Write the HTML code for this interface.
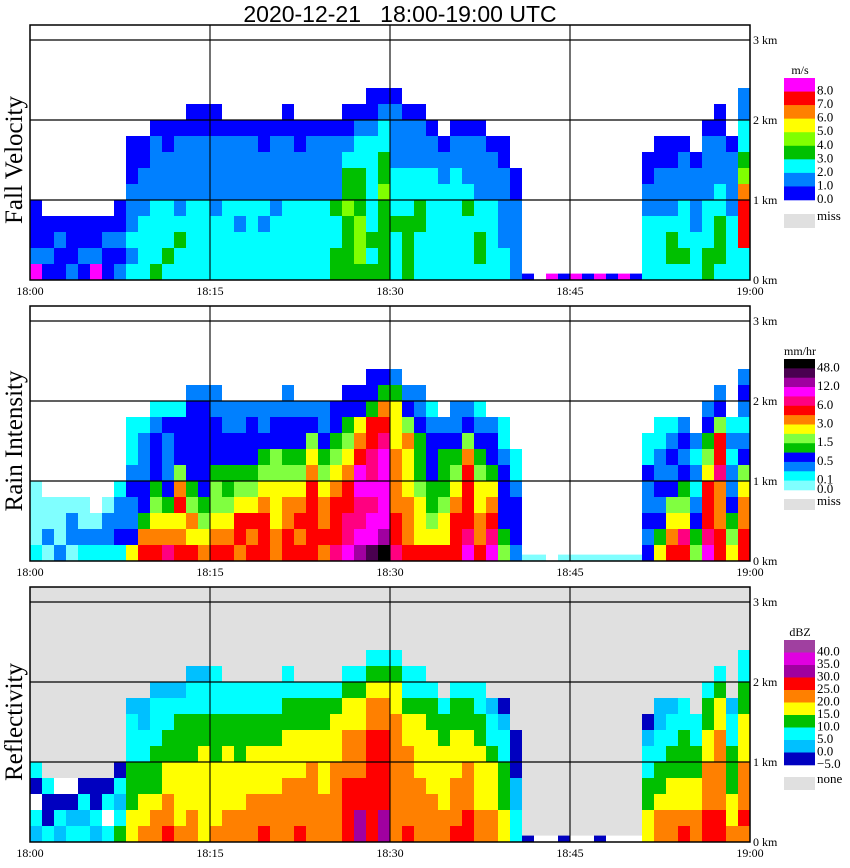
<!DOCTYPE html>
<html><head><meta charset="utf-8">
<style>
html,body{margin:0;padding:0;background:#fff;}
svg{display:block;}
text{font-family:"Liberation Serif",serif;fill:#000;}
</style></head>
<body>
<svg id="chart" width="850" height="868" viewBox="0 0 850 868" xmlns="http://www.w3.org/2000/svg">
<text x="400" y="22" text-anchor="middle" font-size="23" style="font-family:'Liberation Sans',sans-serif;white-space:pre" xml:space="preserve">2020-12-21   18:00-19:00 UTC</text>
</svg>
<script>
// time axis: minutes after 18:00; height bins of 0.2 km, bottom to top
const timeTicks = ["18:00","18:15","18:30","18:45","19:00"];
const tickMinutes = [0,15,30,45,60];
const heightTicks = [0,1,2,3];
const binKm = 0.2;

// Fall velocity (codes 0..8)
const velocityColumns = ["81000","0100","0010","1000","0100","8100","0010","10100",
"212111000","222211100","3222211110","2322211100","2232111110","22222111100","22222111100","22221111100",
"2222211110","2221211110","2222211110","2221211100","2222111110","22222111100","2222211100","2222211110",
"2222211110","3322311110","33334332100","34443332210","323222222100","333334332210","222322211110","33332221110",
"22233221110","2222222110","222222110","2222222110","2222321110","2332211110","222221110","221111100",
"1111100","0",".","8","0","8","0","8","0","8",
"0","22221100","222211100","233211100","232221110","22211110","3322211110","23332211100","222211110","227776432211"];
// Rain intensity (codes a..n)
const rainColumns = ["baaaa","acaa","caaa","acca","bcaa","bca","bcca","bdccb",
"gdccdcbbb","iheddcccb","ihgfedddcb","jhgedcccdb","ihgihfdddb","ighfedddddc","hgfeddddddc","ihgffedddcc",
"ihgfeeddcc","hiigfeddcc","ihigfedddc","iiihgfedcc","hhgggffddc","iihhgfeddcc","ihihgfeddc","iiiiihgfdc",
"hihhgfedcc","jiiihgfedd","kjjiihgfedd","lkjjkkihgdd","mkkjkjjiiedd","nlkkkkkjihed","jiihhhhgggec","ihhhggghfdc",
"igggfeeedcc","igfeedddcb","iggfeeedc","iiihgfedcc","kjiiiihfdc","ihhggfedcb","kjihgeddc","feddddcbb",
"cdddcbb","a","a",".","a","a","a","a","a","a",
"a","dcdccdbb","gedcdccbb","ihgfdcdcb","ijgfedcdc","fedcbcbc","kjiiigfedc","iihhhjiifdc","gfedccbcb","iihhgfdcbcdc"];
// Reflectivity (codes 0..9, w = white/below threshold)
const dbzColumns = ["12w02","2002","120w","210w","2120","1200","2w20","32120",
"443332221","544332211","5543332221","6554433221","5444433321","55444333221","44444433221","54444333222",
"5544443322","5544433322","5554443322","6554443322","5554443322","55554443322","6555444332","5555544332",
"5554444332","5555544432","66665554432","77665554432","666666655432","776666655432","555555554432","65555544322",
"55554444322","5554444332","554444332","6555444332","6655544332","5544443322","554443221","443332210",
"2211000","0","w","w","0","w","w","0","w","w",
"w","44332210","554332211","554433221","654433322","55443322","6655544332","66555554432","544333221","565554443322"];

const velocityLegendLabels = ["8.0","7.0","6.0","5.0","4.0","3.0","2.0","1.0","0.0"];
const rainLegendLabels = ["48.0","12.0","6.0","3.0","1.5","0.5","0.1","0.0"];
const rainLegendIdx = [1,3,5,7,9,11,13,14];
const dbzLegendLabels = ["40.0","35.0","30.0","25.0","20.0","15.0","10.0","5.0","0.0","\u22125.0"];

const velPal = {"0":"#0000ff","1":"#0080ff","2":"#00ffff","3":"#00c000","4":"#80ff00","5":"#ffff00","6":"#ff8000","7":"#ff0000","8":"#ff00ff"};
const rainPal = {a:"#80ffff",b:"#00ffff",c:"#0080ff",d:"#0000ff",e:"#00c000",f:"#80ff40",g:"#ffff00",h:"#ff8000",i:"#ff0000",j:"#ff0080",k:"#ff00ff",l:"#a000a0",m:"#4a0050",n:"#000000"};
const dbzPal = {"0":"#0000c0","1":"#00c0ff","2":"#00ffff","3":"#00c000","4":"#ffff00","5":"#ff8000","6":"#ff0000","7":"#a000a0","8":"#e000e0","9":"#a040a0","w":"#ffffff"};

const NS="http://www.w3.org/2000/svg";
const svg=document.getElementById('chart');
function mk(tag,attrs,parent){const e=document.createElementNS(NS,tag);for(const k in attrs)e.setAttribute(k,attrs[k]);(parent||svg).appendChild(e);return e;}
const X0=30,X1=750;
function xScale(m){return X0+(X1-X0)*m/60;}

const panels=[
 {name:"fall-velocity",title:"Fall Velocity",base:280,cols:velocityColumns,pal:velPal,bg:"#ffffff",
  legCols:["#ff00ff","#ff0000","#ff8000","#ffff00","#80ff00","#00c000","#00ffff","#0080ff","#0000ff"],legTop:78,legBot:200,unit:"m/s",missTop:214,missH:14,missLabel:"miss"},
 {name:"rain-intensity",title:"Rain Intensity",base:561,cols:rainColumns,pal:rainPal,bg:"#ffffff",
  legCols:["#000000","#4a0050","#a000a0","#ff00ff","#ff0080","#ff0000","#ff8000","#ffff00","#80ff40","#00c000","#0000ff","#0080ff","#00ffff","#80ffff"],legTop:359,legBot:490,unit:"mm/hr",missTop:499,missH:11,missLabel:"miss"},
 {name:"reflectivity",title:"Reflectivity",base:842,cols:dbzColumns,pal:dbzPal,bg:"#e0e0e0",
  legCols:["#a040a0","#e000e0","#a000a0","#ff0000","#ff8000","#ffff00","#00c000","#00ffff","#00c0ff","#0000c0"],legTop:640,legBot:765,unit:"dBZ",missTop:777,missH:13,missLabel:"none"}
];

panels.forEach((p,pi)=>{
 const yScale=km=>p.base-km*80;
 const top=p.base-255;
 const g=mk('g',{});
 
 
 const bg=mk('rect',{x:X0,y:top,width:X1-X0,height:255,fill:p.bg},g);
 
 
 const cells=mk('g',{},g);
 
 
 p.cols.forEach((s,m)=>{
  const x=xScale(m),w=xScale(m+1)-x;
  for(let k=0;k<s.length;k++){
   const c=s[k]; if(c==='.')continue;
   const h0=k*binKm, h1=(s.length===1)?0.08:(k+1)*binKm;
   const r=mk('rect',{x:x,y:yScale(h1),width:w,height:yScale(h0)-yScale(h1),fill:p.pal[c]},cells);
   
   
  }
 });
 heightTicks.slice(1).forEach(km=>{
  const l=mk('line',{x1:X0,x2:X1,y1:yScale(km),y2:yScale(km),stroke:"#000","stroke-width":1.3},g);
  
  
 });
 tickMinutes.slice(1,4).forEach(m=>{
  const l=mk('line',{x1:xScale(m),x2:xScale(m),y1:top,y2:p.base,stroke:"#000","stroke-width":1.1},g);
  
  
 });
 const fr=mk('rect',{x:X0,y:top,width:X1-X0,height:255,fill:"none",stroke:"#000","stroke-width":1.5},g);
 
 
 heightTicks.forEach(km=>{
  const t=mk('text',{x:753,y:yScale(km)+4,"font-size":12},g);
  t.textContent=km+" km";
  
  
 });
 timeTicks.forEach((lab,i)=>{
  const t=mk('text',{x:xScale(tickMinutes[i]),y:p.base+15,"font-size":12,"text-anchor":"middle"},g);
  t.textContent=lab;
  
  
 });
 const cy=p.base-120;
 const yt=mk('text',{x:0,y:0,"font-size":25,"text-anchor":"middle",transform:`translate(22,${cy}) rotate(-90)`},g);
 yt.textContent=p.title;
 
 
 const lg=mk('g',{},g);
 
 
 const ut=mk('text',{x:800,y:p.legTop-4,"font-size":12,"text-anchor":"middle"},lg);
 ut.textContent=p.unit;
 
 
 const n=p.legCols.length,bh=(p.legBot-p.legTop)/n;
 p.legCols.forEach((c,i)=>{
  const r=mk('rect',{x:784,y:p.legTop+i*bh,width:31,height:bh+0.3,fill:c},lg);
  
  
 });
 let labs,idx;
 if(pi===0){labs=velocityLegendLabels;idx=labs.map((_,i)=>i+1);}
 else if(pi===1){labs=rainLegendLabels;idx=rainLegendIdx;}
 else{labs=dbzLegendLabels;idx=labs.map((_,i)=>i+1);}
 labs.forEach((l,i)=>{
  const t=mk('text',{x:817,y:p.legTop+idx[i]*bh+3,"font-size":13},lg);
  t.textContent=l;
  
  
 });
 const mb=mk('rect',{x:784,y:p.missTop,width:31,height:p.missH,fill:"#e0e0e0"},lg);
 
 
 const mt=mk('text',{x:817,y:p.missTop+6,"font-size":13},lg);
 mt.textContent=p.missLabel;
 
 
});
</script>
</body></html>
